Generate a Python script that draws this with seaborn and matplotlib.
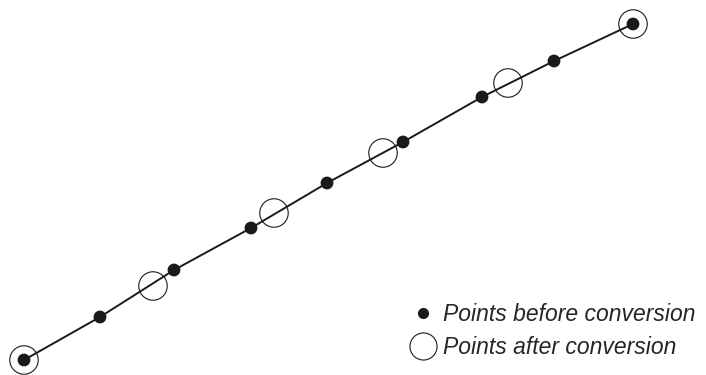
import matplotlib
matplotlib.use("Agg")
import matplotlib.pyplot as plt
from matplotlib.lines import Line2D
import pandas as pd
import seaborn as sns

sns.set_theme(style="white")
plt.rcParams["font.family"] = ["Liberation Sans", "DejaVu Sans"]

# points before conversion (x, y on a 706 x 375 canvas, y measured upward)
before_x = [24, 100, 174, 251, 327, 403, 482, 554, 633]
before_y = [15, 58, 105, 147, 192, 233, 278, 314, 351]

# points after conversion
after_x = [24, 153, 274, 383, 508, 633]
after_y = [15, 89, 162, 222, 292, 351]

before = pd.DataFrame({"x": before_x, "y": before_y})
after = pd.DataFrame({"x": after_x, "y": after_y})

fig = plt.figure(figsize=(7.06, 3.75), dpi=100)
ax = fig.add_axes([0, 0, 1, 1])

sns.lineplot(data=before, x="x", y="y", sort=False, color="#1a1a1a",
             linewidth=1.4, ax=ax, zorder=1)
sns.scatterplot(data=before, x="x", y="y", s=85, color="#1a1a1a",
                edgecolor="none", ax=ax, zorder=3)
sns.scatterplot(data=after, x="x", y="y", s=420, facecolor="none",
                edgecolor="#1a1a1a", linewidth=0.8, ax=ax, zorder=2)

ax.set_xlim(0, 706)
ax.set_ylim(0, 375)
ax.axis("off")

handles = [
    Line2D([], [], marker="o", linestyle="none", markersize=8,
           markerfacecolor="#1a1a1a", markeredgecolor="none"),
    Line2D([], [], marker="o", linestyle="none", markersize=19.5,
           markerfacecolor="none", markeredgecolor="#1a1a1a", markeredgewidth=0.8),
]
ax.legend(handles, ["Points before conversion", "Points after conversion"],
          loc="lower right", bbox_to_anchor=(1.008, 0.0), frameon=False,
          prop={"style": "italic", "size": 16.5}, handletextpad=0.25,
          labelspacing=0.45, handlelength=1.25, borderaxespad=0.3)

fig.savefig("out.png", dpi=100)
